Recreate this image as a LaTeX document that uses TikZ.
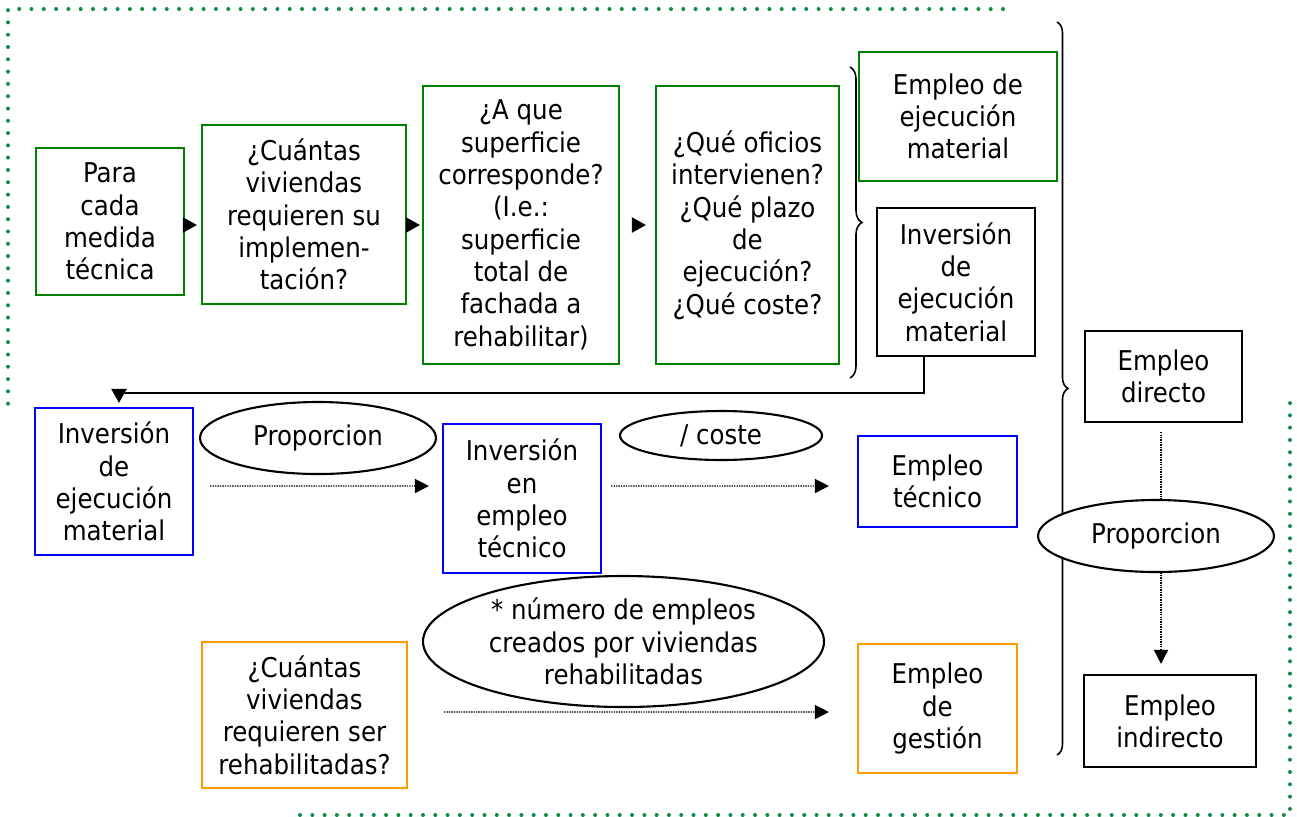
\documentclass[tikz,border=0pt]{standalone}
\usepackage{fontspec}
\setmainfont{DejaVu Sans Condensed}
\usetikzlibrary{positioning,calc,arrows.meta,shapes,decorations.pathreplacing}

\definecolor{framegreen}{RGB}{16,140,70}
\definecolor{boxgreen}{RGB}{0,128,0}
\definecolor{boxblue}{RGB}{0,0,255}
\definecolor{boxorange}{RGB}{255,153,0}

\tikzset{
  sz/.style 2 args={minimum width=#1*0.02cm,minimum height=#2*0.02cm},
  stage/.style={rectangle,draw=black,line width=1.2pt,align=center,inner sep=0pt},
  factor/.style={ellipse,draw=black,line width=1.2pt,align=center,inner sep=0pt,fill=white},
  solidarr/.style={line width=1.2pt,-{Triangle[length=0.28cm,width=0.3cm]}},
  dotarr/.style={line width=0.8pt,dash pattern=on 0.8pt off 0.6pt,-{Triangle[length=0.28cm,width=0.28cm]}},
  bracket/.style={line width=0.9pt,decorate,decoration={brace,amplitude=#1}},
  frame/.style={framegreen,line width=0.08cm,line cap=round,dash pattern=on 0pt off 0.246cm},
}

\begin{document}
\begin{tikzpicture}[x=0.02cm,y=-0.02cm,font=\fontsize{15.5}{18.4}\selectfont]
    \useasboundingbox (0,0) rectangle (1297,816);

    % dotted frame
    \draw[frame] (1003,9) -- (8,9) -- (8,404);
    \draw[frame] (300,815) -- (1290,815) -- (1290,393);

    % first row
    \node[stage,draw=boxgreen,sz={148}{147}] (para) at (110,221.5) {Para\\cada\\medida\\técnica};
    \node[stage,draw=boxgreen,sz={204}{179}] (cuantas) at (304,214.5) {¿Cuántas\\viviendas\\requieren su\\implemen-\\tación?};
    \node[stage,draw=boxgreen,sz={196}{278}] (superficie) at (521,225) {¿A que\\superficie\\corresponde?\\(I.e.:\\superficie\\total de\\fachada a\\rehabilitar)};
    \node[stage,draw=boxgreen,sz={183}{278}] (oficios) at (747.5,225) {¿Qué oficios\\intervienen?\\¿Qué plazo\\de\\ejecución?\\¿Qué coste?};
    \node[stage,draw=boxgreen,sz={198}{129}] (empejec) at (958,116.5) {Empleo de\\ejecución\\material};
    \node[stage,sz={158}{148}] (invejec) at (956,282) {Inversión\\de\\ejecución\\material};

    \draw[solidarr] ([shift={(0,3.5)}]para.east) -- ([shift={(-4,10.5)}]cuantas.west);
    \draw[solidarr] ([shift={(0,10.5)}]cuantas.east) -- ([shift={(-2,0)}]superficie.west);
    \draw[solidarr] ([shift={(12,0)}]superficie.east) -- ([shift={(-9,0)}]oficios.west);

    \draw[bracket=0.24cm] (850,67) -- (850,378);
    \draw[bracket=0.22cm] (1057,22) -- (1057,755);

    % technical employment
    \node[stage,draw=boxblue,sz={158}{147}] (invmat) at (114,481.5) {Inversión\\de\\ejecución\\material};
    \node[stage,draw=boxblue,sz={158}{149}] (invtec) at (522,498.5) {Inversión\\en\\empleo\\técnico};
    \node[stage,draw=boxblue,sz={159}{91}] (emptec) at (937.5,481.5) {Empleo\\técnico};
    \node[factor,sz={236}{72}] (propa) at (318,438) {Proporcion};
    \node[factor,sz={202}{49}] (coste) at (721,435.5) {/ coste};

    \draw[solidarr] ([shift={(-32,0)}]invejec.south) -- ++(0,36) -| ([shift={(5,-4)}]invmat.north);
    \draw[dotarr] ([shift={(16,4.5)}]invmat.east) -- ([shift={(-13,-12.5)}]invtec.west);
    \draw[dotarr] ([shift={(9,-12.5)}]invtec.east) -- ([shift={(-28,4.5)}]emptec.west);

    % management employment
    \node[stage,draw=boxorange,sz={205}{146}] (rehab) at (304.5,715) {¿Cuántas\\viviendas\\requieren ser\\rehabilitadas?};
    \node[stage,draw=boxorange,sz={159}{129}] (gestion) at (937.5,708.5) {Empleo\\de\\gestión};
    \node[factor,sz={401}{131}] (numero) at (623.5,641.5) {* número de empleos\\creados por viviendas\\rehabilitadas};

    \draw[dotarr] ([shift={(36,-3)}]rehab.east) -- ([shift={(-28,3.5)}]gestion.west);

    % direct / indirect
    \node[stage,sz={157}{91}] (directo) at (1163.5,376.5) {Empleo\\directo};
    \node[stage,sz={172}{92}] (indirecto) at (1170,721) {Empleo\\indirecto};
    \draw[dotarr] ([shift={(-2.5,9)}]directo.south) -- ([shift={(-9,-10)}]indirecto.north);
    \node[factor,sz={236}{72}] (propb) at (1156,536) {Proporcion};
\end{tikzpicture}
\end{document}
